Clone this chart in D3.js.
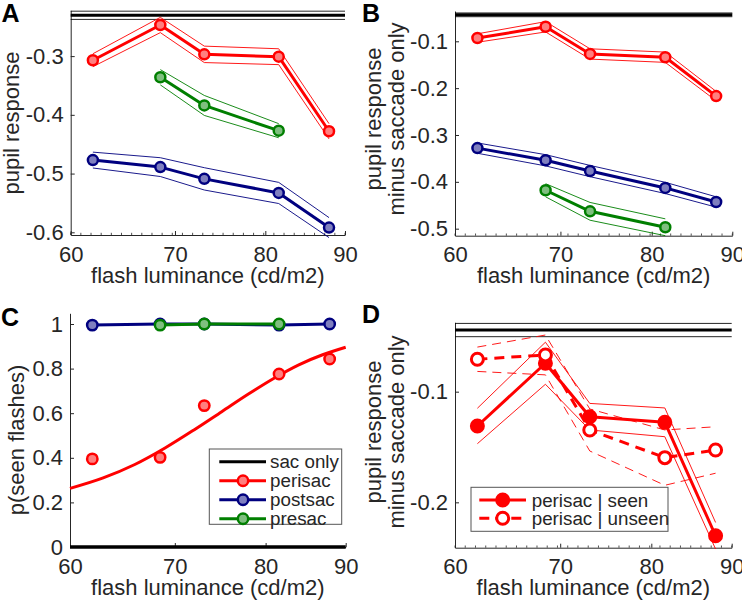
<!DOCTYPE html>
<html><head><meta charset="utf-8">
<script src="https://cdn.jsdelivr.net/npm/d3@7"></script>
<style>
body{margin:0;background:#fff}
svg{display:block;font-family:"Liberation Sans",Arial,Helvetica,sans-serif}
</style>
</head><body><svg id="c" width="742" height="600"></svg>
<script>
// ---------- data ----------
const lumX = [62.0, 68.5, 73.1, 81.6, 87.9];
const lumXPre = [68.5, 73.1, 81.6];
const xTicks = [60, 70, 80, 90];

// Panel A: pupil response
const aSacOnly = -0.2305, aSacOnlySE = 0.007;
const aPeri = [-0.307, -0.247, -0.297, -0.301, -0.428];
const aPeriSE = [0.011, 0.013, 0.014, 0.0135, 0.013];
const aPost = [-0.477, -0.489, -0.509, -0.533, -0.592];
const aPostSE = [0.0135, 0.016, 0.019, 0.018, 0.017];
const aPre = [-0.336, -0.384, -0.427];
const aPreSE = [0.013, 0.017, 0.012];
const aYTicks = [-0.6, -0.5, -0.4, -0.3];

// Panel B: pupil response minus saccade only
const bSacOnly = -0.0435, bSacOnlySE = 0.004;
const bPeri = [-0.093, -0.069, -0.127, -0.134, -0.217];
const bPeriSE = [0.009, 0.011, 0.011, 0.011, 0.010];
const bPost = [-0.328, -0.354, -0.377, -0.413, -0.443];
const bPostSE = [0.011, 0.012, 0.012, 0.012, 0.011];
const bPre = [-0.418, -0.463, -0.497];
const bPreSE = [0.014, 0.019, 0.018];
const bYTicks = [-0.5, -0.4, -0.3, -0.2, -0.1];

// Panel C: p(seen flashes)
const cSacOnly = 0;
const cPeri = [0.395, 0.402, 0.634, 0.776, 0.843];
const cPost = [0.995, 1.0, 1.0, 0.995, 1.0];
const cPre = [0.995, 1.0, 1.0];
const cFitX = [60, 63, 66, 69, 72, 75, 78, 81, 84, 87, 90];
const cFitY = [0.263, 0.310, 0.370, 0.444, 0.525, 0.607, 0.686, 0.757, 0.817, 0.862, 0.896];
const cYTicks = [0, 0.2, 0.4, 0.6, 0.8, 1];
const cLegend = ["sac only", "perisac", "postsac", "presac"];

// Panel D: seen vs unseen
const dSacOnly = -0.0443, dSacOnlySE = 0.006;
const dSeen = [-0.131, -0.0743, -0.1226, -0.1277, -0.2302];
const dSeenSE = [0.016, 0.019, 0.012, 0.013, 0.012];
const dUnseen = [-0.0707, -0.0668, -0.1346, -0.1596, -0.1527];
const dUnseenSE = [0.011, 0.018, 0.019, 0.025, 0.021];
const dYTicks = [-0.2, -0.1];
const dLegend = ["perisac | seen", "perisac | unseen"];

// ---------- styles ----------
const AX = "#262626";
const RED = "#ff0000", RED_F = "#ff7f7f";
const BLUE = "#00007f", BLUE_F = "#7f7fbf";
const GREEN = "#007f00", GREEN_F = "#7fbf7f";
const FS = 22;
const LFS = "18.8px";

const svg = d3.select("#c");

function panel(cfg) {
  const g = svg.append("g");
  const x = d3.scaleLog().domain([60, 90]).range([cfg.x0, cfg.x1]);
  const y = d3.scaleLinear().domain(cfg.ydom).range([cfg.y1, cfg.y0]);
  const ya = g.append("g").attr("transform", `translate(${cfg.x0},0)`)
    .call(d3.axisLeft(y).tickValues(cfg.yticks).tickFormat(d => String(d))
      .tickSize(-4).tickSizeOuter(0).tickPadding(7));
  const xa = g.append("g").attr("transform", `translate(0,${cfg.y1})`)
    .call(d3.axisBottom(x).tickValues(xTicks).tickFormat(d => String(d))
      .tickSize(-4).tickSizeOuter(0).tickPadding(11));
  [ya, xa].forEach(a => {
    a.attr("font-family", null).attr("font-size", null);
    a.select(".domain").attr("stroke", AX).attr("stroke-width", 1);
    a.selectAll(".tick line").attr("stroke", AX);
    a.selectAll("text").attr("fill", AX).style("font-size", FS + "px");
  });
  if (cfg.minor) {
    const mt = d3.range(28).map(k => 60 * Math.pow(1.5, k / 27));
    g.append("g").selectAll("line").data(mt).join("line")
      .attr("x1", d => x(d)).attr("x2", d => x(d))
      .attr("y1", cfg.y1).attr("y2", cfg.y1 - 2.2)
      .attr("stroke", AX).attr("stroke-width", 0.8);
  }
  // x label
  g.append("text").attr("x", (cfg.x0 + cfg.x1) / 2).attr("y", cfg.y1 + 47.5)
    .attr("text-anchor", "middle").attr("fill", AX).style("font-size", FS + "px")
    .text("flash luminance (cd/m2)");
  // y label lines
  cfg.ylab.forEach((t, i) => {
    g.append("text")
      .attr("transform", `translate(${cfg.ylabX[i]},${cfg.ylabY}) rotate(-90)`)
      .attr("text-anchor", "middle").attr("fill", AX).style("font-size", FS + "px")
      .text(t);
  });
  // panel letter
  g.append("text").attr("x", cfg.letterX).attr("y", cfg.letterY)
    .attr("font-weight", "bold").attr("fill", "#000").style("font-size", "25px")
    .text(cfg.letter);
  return { g, x, y };
}

function sacLine(p, val, se, wMain) {
  const [a, b] = p.x.domain();
  const pts = [a, b];
  const ln = off => d3.line().x(d => p.x(d)).y(() => p.y(val + off));
  if (se) {
    p.g.append("path").attr("d", ln(se)(pts)).attr("stroke", "#000").attr("stroke-width", 1).attr("fill", "none").attr("opacity", 0.85);
    p.g.append("path").attr("d", ln(-se)(pts)).attr("stroke", "#000").attr("stroke-width", 1).attr("fill", "none").attr("opacity", 0.85);
  }
  p.g.append("path").attr("d", ln(0)(pts)).attr("stroke", "#000").attr("stroke-width", wMain).attr("fill", "none");
}

function series(p, xs, ys, se, col, fill, o = {}) {
  const idx = d3.range(xs.length);
  const dash = o.dash || null;
  if (se) {
    [1, -1].forEach(s => {
      const l = d3.line().x(i => p.x(xs[i])).y(i => p.y(ys[i] + s * se[i]));
      p.g.append("path").attr("d", l(idx)).attr("fill", "none")
        .attr("stroke", col).attr("stroke-width", 0.9)
        .attr("stroke-dasharray", o.bandDash || null);
    });
  }
  if (!o.noLine) {
    const l = d3.line().x(i => p.x(xs[i])).y(i => p.y(ys[i]));
    p.g.append("path").attr("d", l(idx)).attr("fill", "none")
      .attr("stroke", col).attr("stroke-width", 3).attr("stroke-dasharray", dash)
      .attr("stroke-linejoin", "round");
  }
  p.g.append("g").selectAll("circle").data(idx).join("circle")
    .attr("cx", i => p.x(xs[i])).attr("cy", i => p.y(ys[i]))
    .attr("r", o.r || 5).attr("fill", fill).attr("stroke", col)
    .attr("stroke-width", o.sw || 2.5);
}

// ---------- Panel A ----------
const A = panel({ x0: 70.7, x1: 345, y0: 10.3, y1: 235, ydom: [-0.6046, -0.222], yticks: aYTicks,
  minor: true, ylab: ["pupil response"], ylabX: [18.5], ylabY: 123, letter: "A", letterX: 1.5, letterY: 22 });
sacLine(A, aSacOnly, aSacOnlySE, 3);
series(A, lumX, aPeri, aPeriSE, RED, RED_F);
series(A, lumX, aPost, aPostSE, BLUE, BLUE_F);
series(A, lumXPre, aPre, aPreSE, GREEN, GREEN_F);

// ---------- Panel B ----------
const B = panel({ x0: 455, x1: 732.3, y0: 11, y1: 235.7, ydom: [-0.515, -0.0353], yticks: bYTicks,
  minor: true, ylab: ["pupil response", "minus saccade only"], ylabX: [381, 404], ylabY: 119,
  letter: "B", letterX: 362, letterY: 22 });
sacLine(B, bSacOnly, bSacOnlySE, 3);
series(B, lumX, bPeri, bPeriSE, RED, RED_F);
series(B, lumX, bPost, bPostSE, BLUE, BLUE_F);
series(B, lumXPre, bPre, bPreSE, GREEN, GREEN_F);

// ---------- Panel C ----------
const C = panel({ x0: 70, x1: 345.7, y0: 313.3, y1: 547, ydom: [0, 1.048], yticks: cYTicks,
  minor: false, ylab: ["p(seen flashes)"], ylabX: [24], ylabY: 440, letter: "C", letterX: 1, letterY: 326 });
sacLine(C, cSacOnly, 0, 3.5);
{
  const fl = d3.line().x(d => C.x(d[0])).y(d => C.y(d[1])).curve(d3.curveMonotoneX);
  C.g.append("path").attr("d", fl(cFitX.map((v, i) => [v, cFitY[i]])))
    .attr("fill", "none").attr("stroke", RED).attr("stroke-width", 3);
}
series(C, lumX, cPeri, null, RED, RED_F, { noLine: true, r: 5.2 });
series(C, lumX, cPost, null, BLUE, BLUE_F, { r: 5.2 });
series(C, lumXPre, cPre, null, GREEN, GREEN_F, { r: 5.2 });
// legend C
{
  const lg = C.g.append("g");
  lg.append("rect").attr("x", 209.3).attr("y", 449).attr("width", 132.4).attr("height", 75.3)
    .attr("fill", "#fff").attr("stroke", "#555").attr("stroke-width", 1);
  const cols = [["#000", null], [RED, RED_F], [BLUE, BLUE_F], [GREEN, GREEN_F]];
  cLegend.forEach((t, i) => {
    const yy = 461.7 + i * 19;
    lg.append("line").attr("x1", 219.3).attr("x2", 266).attr("y1", yy).attr("y2", yy)
      .attr("stroke", cols[i][0]).attr("stroke-width", 3);
    if (cols[i][1]) lg.append("circle").attr("cx", 243).attr("cy", yy).attr("r", 5.2)
      .attr("fill", cols[i][1]).attr("stroke", cols[i][0]).attr("stroke-width", 2.5);
    lg.append("text").attr("x", 270).attr("y", yy).attr("dy", "0.35em").attr("fill", AX)
      .style("font-size", LFS).text(t);
  });
}

// ---------- Panel D ----------
const D = panel({ x0: 455, x1: 731.7, y0: 322.3, y1: 547.7, ydom: [-0.241, -0.0373], yticks: dYTicks,
  minor: true, ylab: ["pupil response", "minus saccade only"], ylabX: [381, 404], ylabY: 432,
  letter: "D", letterX: 362, letterY: 323 });
sacLine(D, dSacOnly, dSacOnlySE, 3);
series(D, lumX, dSeen, dSeenSE, RED, RED, { r: 6.5, sw: 2 });
series(D, lumX, dUnseen, dUnseenSE, RED, "#fff", { r: 6, sw: 3, dash: "10,7", bandDash: "9,6" });
// legend D
{
  const lg = D.g.append("g");
  lg.append("rect").attr("x", 471).attr("y", 487.3).attr("width", 197).attr("height", 44)
    .attr("fill", "#fff").attr("stroke", "#555").attr("stroke-width", 1);
  const st = [{ fill: RED, r: 6.5, sw: 2, dash: null }, { fill: "#fff", r: 6, sw: 3, dash: "10,6" }];
  dLegend.forEach((t, i) => {
    const yy = 500 + i * 18.3;
    lg.append("line").attr("x1", 479.3).attr("x2", 526).attr("y1", yy).attr("y2", yy)
      .attr("stroke", RED).attr("stroke-width", 3).attr("stroke-dasharray", st[i].dash);
    lg.append("circle").attr("cx", 502.7).attr("cy", yy).attr("r", st[i].r)
      .attr("fill", st[i].fill).attr("stroke", RED).attr("stroke-width", st[i].sw);
    lg.append("text").attr("x", 531.7).attr("y", yy).attr("dy", "0.35em").attr("fill", AX)
      .style("font-size", LFS).text(t);
  });
}
</script>
</body></html>
